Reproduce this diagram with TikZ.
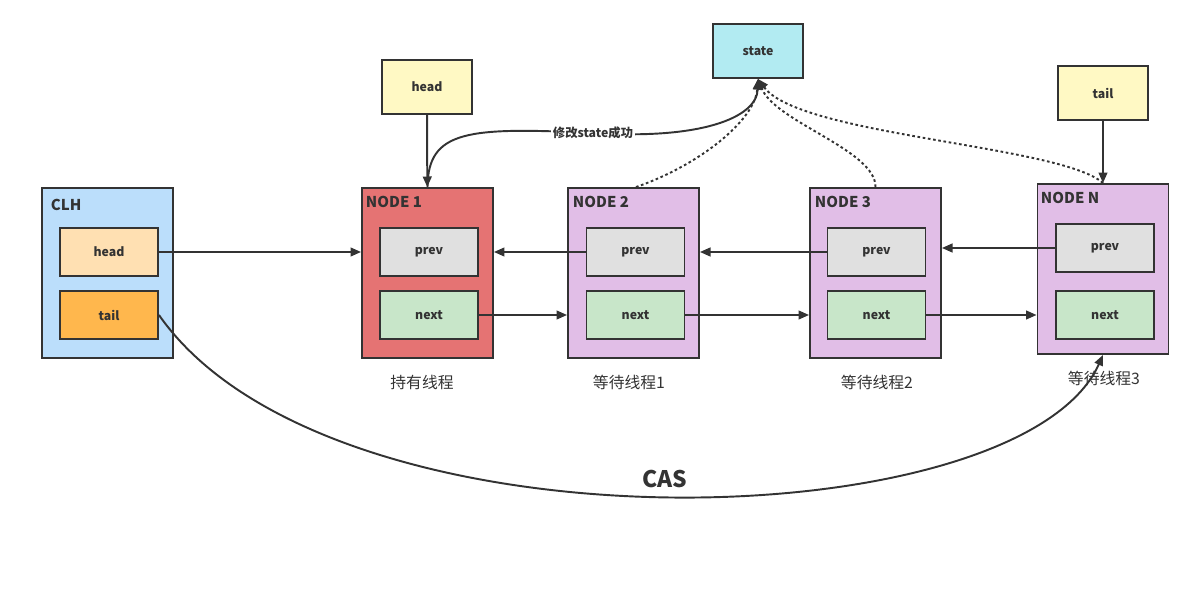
\documentclass[tikz,border=0pt]{standalone}
\usepackage{fontspec}
\setmainfont{Noto Sans CJK SC}
\usetikzlibrary{arrows.meta}
\definecolor{clhblue}{HTML}{BBDEFB}
\definecolor{clhhead}{HTML}{FFE0B2}
\definecolor{clhtail}{HTML}{FFB74D}
\definecolor{holdred}{HTML}{E57373}
\definecolor{waitpurple}{HTML}{E1BEE7}
\definecolor{prevgray}{HTML}{E0E0E0}
\definecolor{nextgreen}{HTML}{C8E6C9}
\definecolor{ptryellow}{HTML}{FFF9C4}
\definecolor{statecyan}{HTML}{B2EBF2}
\definecolor{ink}{HTML}{333333}

\begin{document}
\begin{tikzpicture}[x=0.02cm, y=-0.02cm, line width=1.1pt, draw=ink, text=ink,
    outer/.style={draw=ink, minimum width=2.62cm, minimum height=3.4cm},
    field/.style={draw=ink, minimum width=1.96cm, minimum height=0.96cm, font=\bfseries\fontsize{7}{8}\selectfont},
    pointer/.style={draw=ink, minimum width=1.8cm, minimum height=1.08cm, font=\bfseries\fontsize{7}{8}\selectfont},
    title/.style={anchor=north west, inner sep=0pt, font=\bfseries\fontsize{8.5}{10}\selectfont},
    thread/.style={font=\fontsize{9}{11}\selectfont},
    link/.style={-{Triangle[length=6pt,width=5pt]}},
    watch/.style={-{Triangle[length=6pt,width=5pt]}, dash pattern=on 1.5pt off 1.5pt}]
    \useasboundingbox (0,0) rectangle (1194,607);

    % CLH queue
    \node[outer, fill=clhblue] (clh) at (107.5,273) {};
    \node[title] (clhname) at (50,198) {CLH};
    \node[field, fill=clhhead] (clhhead) at (109,252) {head};
    \node[field, fill=clhtail] (clhtail) at (109,315) {tail};

    % pointers and state
    \node[pointer, fill=ptryellow] (head) at (427,87) {head};
    \node[pointer, fill=statecyan] (state) at (758,51) {state};
    \node[pointer, fill=ptryellow] (tail) at (1103,93) {tail};

    % nodes
    \node[outer, fill=holdred] (node1) at (427.5,273) {};
    \node[title] (name1) at (365,195) {NODE 1};
    \node[field, fill=prevgray] (prev1) at (429,252) {prev};
    \node[field, fill=nextgreen] (next1) at (429,315) {next};
    \node[thread] (thr1) at (422,382) {持有线程};

    \node[outer, fill=waitpurple] (node2) at (633.5,273) {};
    \node[title] (name2) at (572,195) {NODE 2};
    \node[field, fill=prevgray] (prev2) at (635.5,252) {prev};
    \node[field, fill=nextgreen] (next2) at (635.5,315) {next};
    \node[thread] (thr2) at (629,382) {等待线程1};

    \node[outer, fill=waitpurple] (node3) at (875.5,273) {};
    \node[title] (name3) at (814,195) {NODE 3};
    \node[field, fill=prevgray] (prev3) at (876.5,252) {prev};
    \node[field, fill=nextgreen] (next3) at (876.5,315) {next};
    \node[thread] (thr3) at (877,382) {等待线程2};

    \node[outer, fill=waitpurple] (nodeN) at (1103,269) {};
    \node[title] (nameN) at (1040,191) {NODE N};
    \node[field, fill=prevgray] (prevN) at (1105,248) {prev};
    \node[field, fill=nextgreen] (nextN) at (1105,315) {next};
    \node[thread] (thrN) at (1104,378) {等待线程3};

    % prev / next links
    \draw[link] (clhhead.east) -- (node1.west |- clhhead.east);
    \draw[link] (prev2.west) -- (node1.east |- prev2.west);
    \draw[link] (next1.east) -- (node2.west |- next1.east);
    \draw[link] (prev3.west) -- (node2.east |- prev3.west);
    \draw[link] (next2.east) -- (node3.west |- next2.east);
    \draw[link] (prevN.west) -- (node3.east |- prevN.west);
    \draw[link] (next3.east) -- (nodeN.west |- next3.east);
    \draw[link] (head) -- (node1);
    \draw[link] (tail) -- (nodeN);

    % state
    \draw[link] (node1.north) .. controls (428,130) and (468,127) .. (593,133)
        node[fill=white, inner sep=1pt, font=\bfseries\fontsize{7}{8}\selectfont] (cas1) {修改state成功}
        .. controls (700,140) and (757,118) .. (state.south);
    \draw[watch] (node2.north -| 636,0) .. controls (700,165) and (755,120) .. (state.south);
    \draw[watch] (node3.north) .. controls (876,150) and (775,122) .. (state.south);
    \draw[watch] (nodeN.north) .. controls (1060,145) and (800,136) .. (state.south);
    %\draw[watch] (state.south) .. controls (800,136) and (1060,145) .. (nodeN.north);

    % CAS tail
    \draw[link] (clhtail.east) .. controls (330,560) and (1020,540) .. (nodeN.south);
    \node[font=\bfseries\fontsize{13}{15}\selectfont] (cas) at (665,479) {CAS};
\end{tikzpicture}
\end{document}
